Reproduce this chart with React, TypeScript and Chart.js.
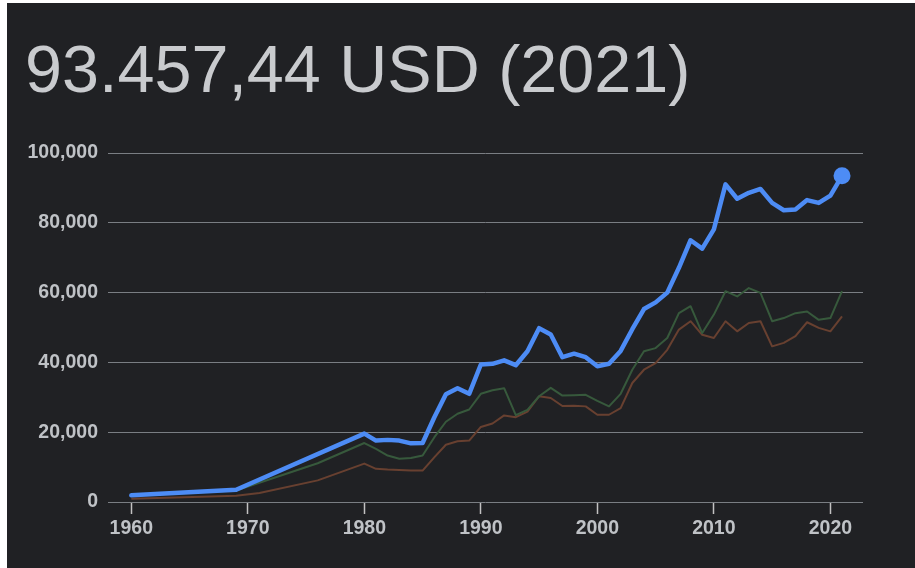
import { useEffect, useRef } from "react";
import { Chart, registerables } from "chart.js";

Chart.register(...registerables);

const titleText = "93.457,44 USD (2021)";

const years = [
  1960, 1961, 1962, 1963, 1964, 1965, 1966, 1967, 1968, 1969,
  1970, 1971, 1972, 1973, 1974, 1975, 1976, 1977, 1978, 1979,
  1980, 1981, 1982, 1983, 1984, 1985, 1986, 1987, 1988, 1989,
  1990, 1991, 1992, 1993, 1994, 1995, 1996, 1997, 1998, 1999,
  2000, 2001, 2002, 2003, 2004, 2005, 2006, 2007, 2008, 2009,
  2010, 2011, 2012, 2013, 2014, 2015, 2016, 2017, 2018, 2019,
  2020, 2021,
];

// Blue (main) series
const seriesMain: (number | null)[] = [
  1900, null, null, null, null, null, null, null, null, 3500,
  null, null, null, null, null, null, null, null, null, null,
  19600, 17600, 17800, 17600, 16800, 16900, 24200, 30900, 32600, 31000,
  39400, 39600, 40600, 39200, 43200, 49800, 48000, 41500, 42500, 41500,
  38900, 39600, 43300, 49500, 55300, 57200, 60000, 67100, 75000, 72600,
  78100, 91000, 86900, 88600, 89700, 85700, 83600, 83800, 86500, 85700,
  87800, 93457.44,
];

// Green series
const seriesGreen: (number | null)[] = [
  1800, null, null, null, null, null, null, null, null, 3300,
  null, null, null, null, null, null, 11100, null, null, null,
  16900, 15200, 13300, 12400, 12600, 13300, 18500, 23000, 25300, 26500,
  31000, 32000, 32600, 24900, 26400, 30300, 32700, 30500, 30600, 30700,
  29000, 27400, 31000, 37900, 43200, 44100, 47000, 54100, 56100, 48400,
  53700, 60400, 58900, 61300, 59900, 51800, 52700, 54100, 54600, 52200,
  52700, 60400,
];

// Brown series
const seriesBrown: (number | null)[] = [
  900, null, null, null, null, null, null, null, null, 1800,
  null, 2600, null, null, null, null, 6200, null, null, null,
  11000, 9500, 9300, 9200, 9000, 9000, 12800, 16400, 17400, 17600,
  21500, 22500, 24800, 24300, 25900, 30300, 29800, 27500, 27600, 27400,
  25000, 25000, 26900, 34100, 37900, 39800, 43600, 49400, 51800, 47900,
  47000, 51800, 48900, 51300, 51800, 44600, 45600, 47500, 51500, 49900,
  48900, 53200,
];

const xTicks = [1960, 1970, 1980, 1990, 2000, 2010, 2020];
const yTicks = [0, 20000, 40000, 60000, 80000, 100000];

const FONT = "'Liberation Sans', Arial, sans-serif";
const BG = "#202124";
const TEXT = "#bfc2c6";
const GRID = "#7a7e83";

function toPoints(values: (number | null)[]) {
  const pts: { x: number; y: number }[] = [];
  years.forEach((x, i) => {
    const v = values[i];
    if (v !== null && v !== undefined) pts.push({ x, y: v });
  });
  return pts;
}

export default function App() {
  const canvasRef = useRef<HTMLCanvasElement | null>(null);

  useEffect(() => {
    const canvas = canvasRef.current;
    if (!canvas) return;
    const mainPts = toPoints(seriesMain);
    const lastIdx = mainPts.length - 1;
    const chart = new Chart(canvas, {
      type: "line",
      data: {
        datasets: [
          {
            label: "main",
            data: mainPts,
            borderColor: "#4d8cf5",
            backgroundColor: "#4d8cf5",
            borderWidth: 4.5,
            borderJoinStyle: "round",
            borderCapStyle: "round",
            tension: 0,
            pointRadius: (ctx: any) => (ctx.dataIndex === lastIdx ? 8.5 : 0),
            pointBackgroundColor: "#4d8cf5",
            pointBorderWidth: 0,
            pointHoverRadius: 0,
          },
          {
            label: "green",
            data: toPoints(seriesGreen),
            borderColor: "#37593c",
            borderWidth: 2,
            borderJoinStyle: "round",
            tension: 0,
            pointRadius: 0,
          },
          {
            label: "brown",
            data: toPoints(seriesBrown),
            borderColor: "#684030",
            borderWidth: 2,
            borderJoinStyle: "round",
            tension: 0,
            pointRadius: 0,
          },
        ],
      } as any,
      options: {
        responsive: false,
        animation: false,
        events: [],
        layout: { padding: { top: 153, right: 52, left: 0, bottom: 0 } },
        plugins: {
          legend: { display: false },
          tooltip: { enabled: false },
          title: { display: false },
        },
        scales: {
          x: {
            type: "linear",
            min: 1958,
            max: 2022.8,
            afterBuildTicks: (s: any) => {
              s.ticks = xTicks.map((v) => ({ value: v }));
            },
            afterFit: (s: any) => {
              s.height = 66;
            },
            grid: {
              drawOnChartArea: false,
              drawTicks: true,
              tickLength: 12,
              tickColor: "#c2c2c2",
              tickWidth: 1.5,
            },
            border: { display: false },
            ticks: {
              color: TEXT,
              font: { family: FONT, size: 19.5, weight: "bold" },
              padding: 3,
              maxRotation: 0,
              autoSkip: false,
              callback: (v: any) => String(v),
            },
          },
          y: {
            min: 0,
            max: 100000,
            afterBuildTicks: (s: any) => {
              s.ticks = yTicks.map((v) => ({ value: v }));
            },
            afterFit: (s: any) => {
              s.width = 108;
            },
            grid: { color: GRID, lineWidth: 1, drawTicks: false },
            border: { display: false },
            ticks: {
              color: TEXT,
              font: { family: FONT, size: 19.5, weight: "bold" },
              padding: 10,
              callback: (v: any) => Number(v).toLocaleString("en-US"),
            },
          },
        },
      } as any,
    });
    return () => chart.destroy();
  }, []);

  return (
    <div style={{ position: "fixed", left: 0, top: 0, width: 915, height: 568, background: "#ffffff", overflow: "hidden" }}>
      <div style={{ position: "absolute", left: 7, top: 3, width: 908, height: 565, background: BG }} />
      <div
        style={{
          position: "absolute",
          left: 25,
          top: 36,
          fontFamily: FONT,
          fontSize: 66.5,
          lineHeight: "66.5px",
          color: "#c9cbce",
          whiteSpace: "nowrap",
        }}
      >
        {titleText}
      </div>
      <canvas
        ref={canvasRef}
        width={915}
        height={568}
        style={{ position: "absolute", left: 0, top: 0, width: 915, height: 568 }}
      />
    </div>
  );
}
